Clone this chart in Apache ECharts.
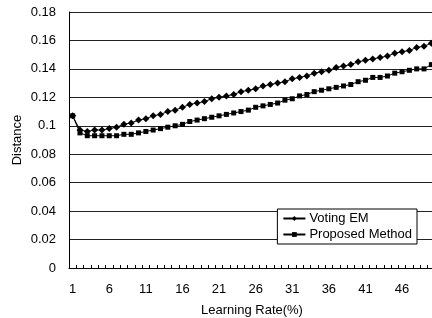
<!DOCTYPE html>
<html>
<head>
<meta charset="utf-8">
<script src="https://cdn.jsdelivr.net/npm/echarts@6/dist/echarts.min.js"></script>
<style>
  html, body { margin: 0; padding: 0; background: #fff; }
  #chart { width: 432px; height: 318px; }
</style>
</head>
<body>
<div id="chart"></div>
<script>
// learning rate 1..50 (%)
const learningRates = [
  1, 2, 3, 4, 5, 6, 7, 8, 9, 10, 11, 12, 13, 14, 15, 16, 17, 18, 19, 20,
  21, 22, 23, 24, 25, 26, 27, 28, 29, 30, 31, 32, 33, 34, 35, 36, 37, 38, 39, 40,
  41, 42, 43, 44, 45, 46, 47, 48, 49, 50
];

const votingEM = [
  0.107, 0.097, 0.096, 0.097, 0.097, 0.098, 0.099, 0.101, 0.102, 0.104,
  0.105, 0.107, 0.108, 0.110, 0.111, 0.113, 0.115, 0.116, 0.117, 0.119,
  0.120, 0.121, 0.122, 0.124, 0.125, 0.126, 0.128, 0.129, 0.130, 0.131,
  0.133, 0.134, 0.135, 0.137, 0.138, 0.139, 0.141, 0.142, 0.143, 0.145,
  0.146, 0.147, 0.148, 0.149, 0.151, 0.152, 0.153, 0.155, 0.156, 0.158
];

const proposedMethod = [
  0.107, 0.095, 0.093, 0.093, 0.093, 0.093, 0.093, 0.094, 0.094, 0.095,
  0.096, 0.097, 0.098, 0.099, 0.100, 0.101, 0.103, 0.104, 0.105, 0.106,
  0.107, 0.108, 0.109, 0.110, 0.111, 0.113, 0.114, 0.115, 0.116, 0.118,
  0.119, 0.121, 0.122, 0.124, 0.125, 0.126, 0.127, 0.128, 0.129, 0.131,
  0.132, 0.134, 0.134, 0.135, 0.137, 0.138, 0.139, 0.140, 0.140, 0.143
];

const font = "'Liberation Sans', Arial, sans-serif";
const ink = "#000";
const fs = 13;

const chart = echarts.init(document.getElementById("chart"), null, { renderer: "canvas" });
chart.setOption({
  animation: false,
  backgroundColor: "#fff",
  textStyle: { fontFamily: font, color: ink },
  grid: { left: 69, right: -3, top: 12, bottom: 50, outerBoundsMode: "none" },
  legend: {
    orient: "vertical",
    right: 15,
    top: 209,
    itemWidth: 22,
    itemHeight: 6,
    itemGap: 3,
    padding: [3, 5, 3, 5],
    borderColor: ink,
    borderWidth: 1,
    backgroundColor: "#fff",
    textStyle: { fontFamily: font, fontSize: fs, color: ink, padding: [0, 0, 0, -1] },
    data: ["Voting EM", "Proposed Method"]
  },
  xAxis: {
    type: "category",
    data: learningRates,
    boundaryGap: true,
    name: "Learning Rate(%)",
    nameLocation: "middle",
    nameGap: 36,
    nameTextStyle: { fontFamily: font, fontSize: fs, color: ink },
    axisLine: { lineStyle: { color: ink, width: 1 } },
    axisTick: { show: true, inside: true, length: 3, interval: 0, lineStyle: { color: ink } },
    axisLabel: { interval: 4, margin: 15, fontFamily: font, fontSize: fs, color: ink },
    splitLine: { show: false }
  },
  yAxis: {
    type: "value",
    min: 0,
    max: 0.18,
    interval: 0.02,
    name: "Distance",
    nameLocation: "middle",
    nameGap: 45,
    nameMoveOverlap: false,
    nameTextStyle: { fontFamily: font, fontSize: fs, color: ink },
    axisLine: { show: true, lineStyle: { color: ink, width: 1 } },
    axisTick: { show: false },
    axisLabel: {
      margin: 13,
      fontFamily: font,
      fontSize: fs,
      color: ink,
      formatter: (v) => (v === 0 ? "0" : String(Math.round(v * 100) / 100))
    },
    splitLine: { show: true, lineStyle: { color: "#222", width: 1 } }
  },
  series: [
    {
      name: "Voting EM",
      type: "line",
      data: votingEM,
      symbol: "diamond",
      symbolSize: 7,
      showAllSymbol: true,
      lineStyle: { color: ink, width: 1 },
      itemStyle: { color: ink }
    },
    {
      name: "Proposed Method",
      type: "line",
      data: proposedMethod,
      symbol: "rect",
      symbolSize: 5,
      showAllSymbol: true,
      lineStyle: { color: ink, width: 1 },
      itemStyle: { color: ink }
    }
  ]
});
</script>
</body>
</html>
